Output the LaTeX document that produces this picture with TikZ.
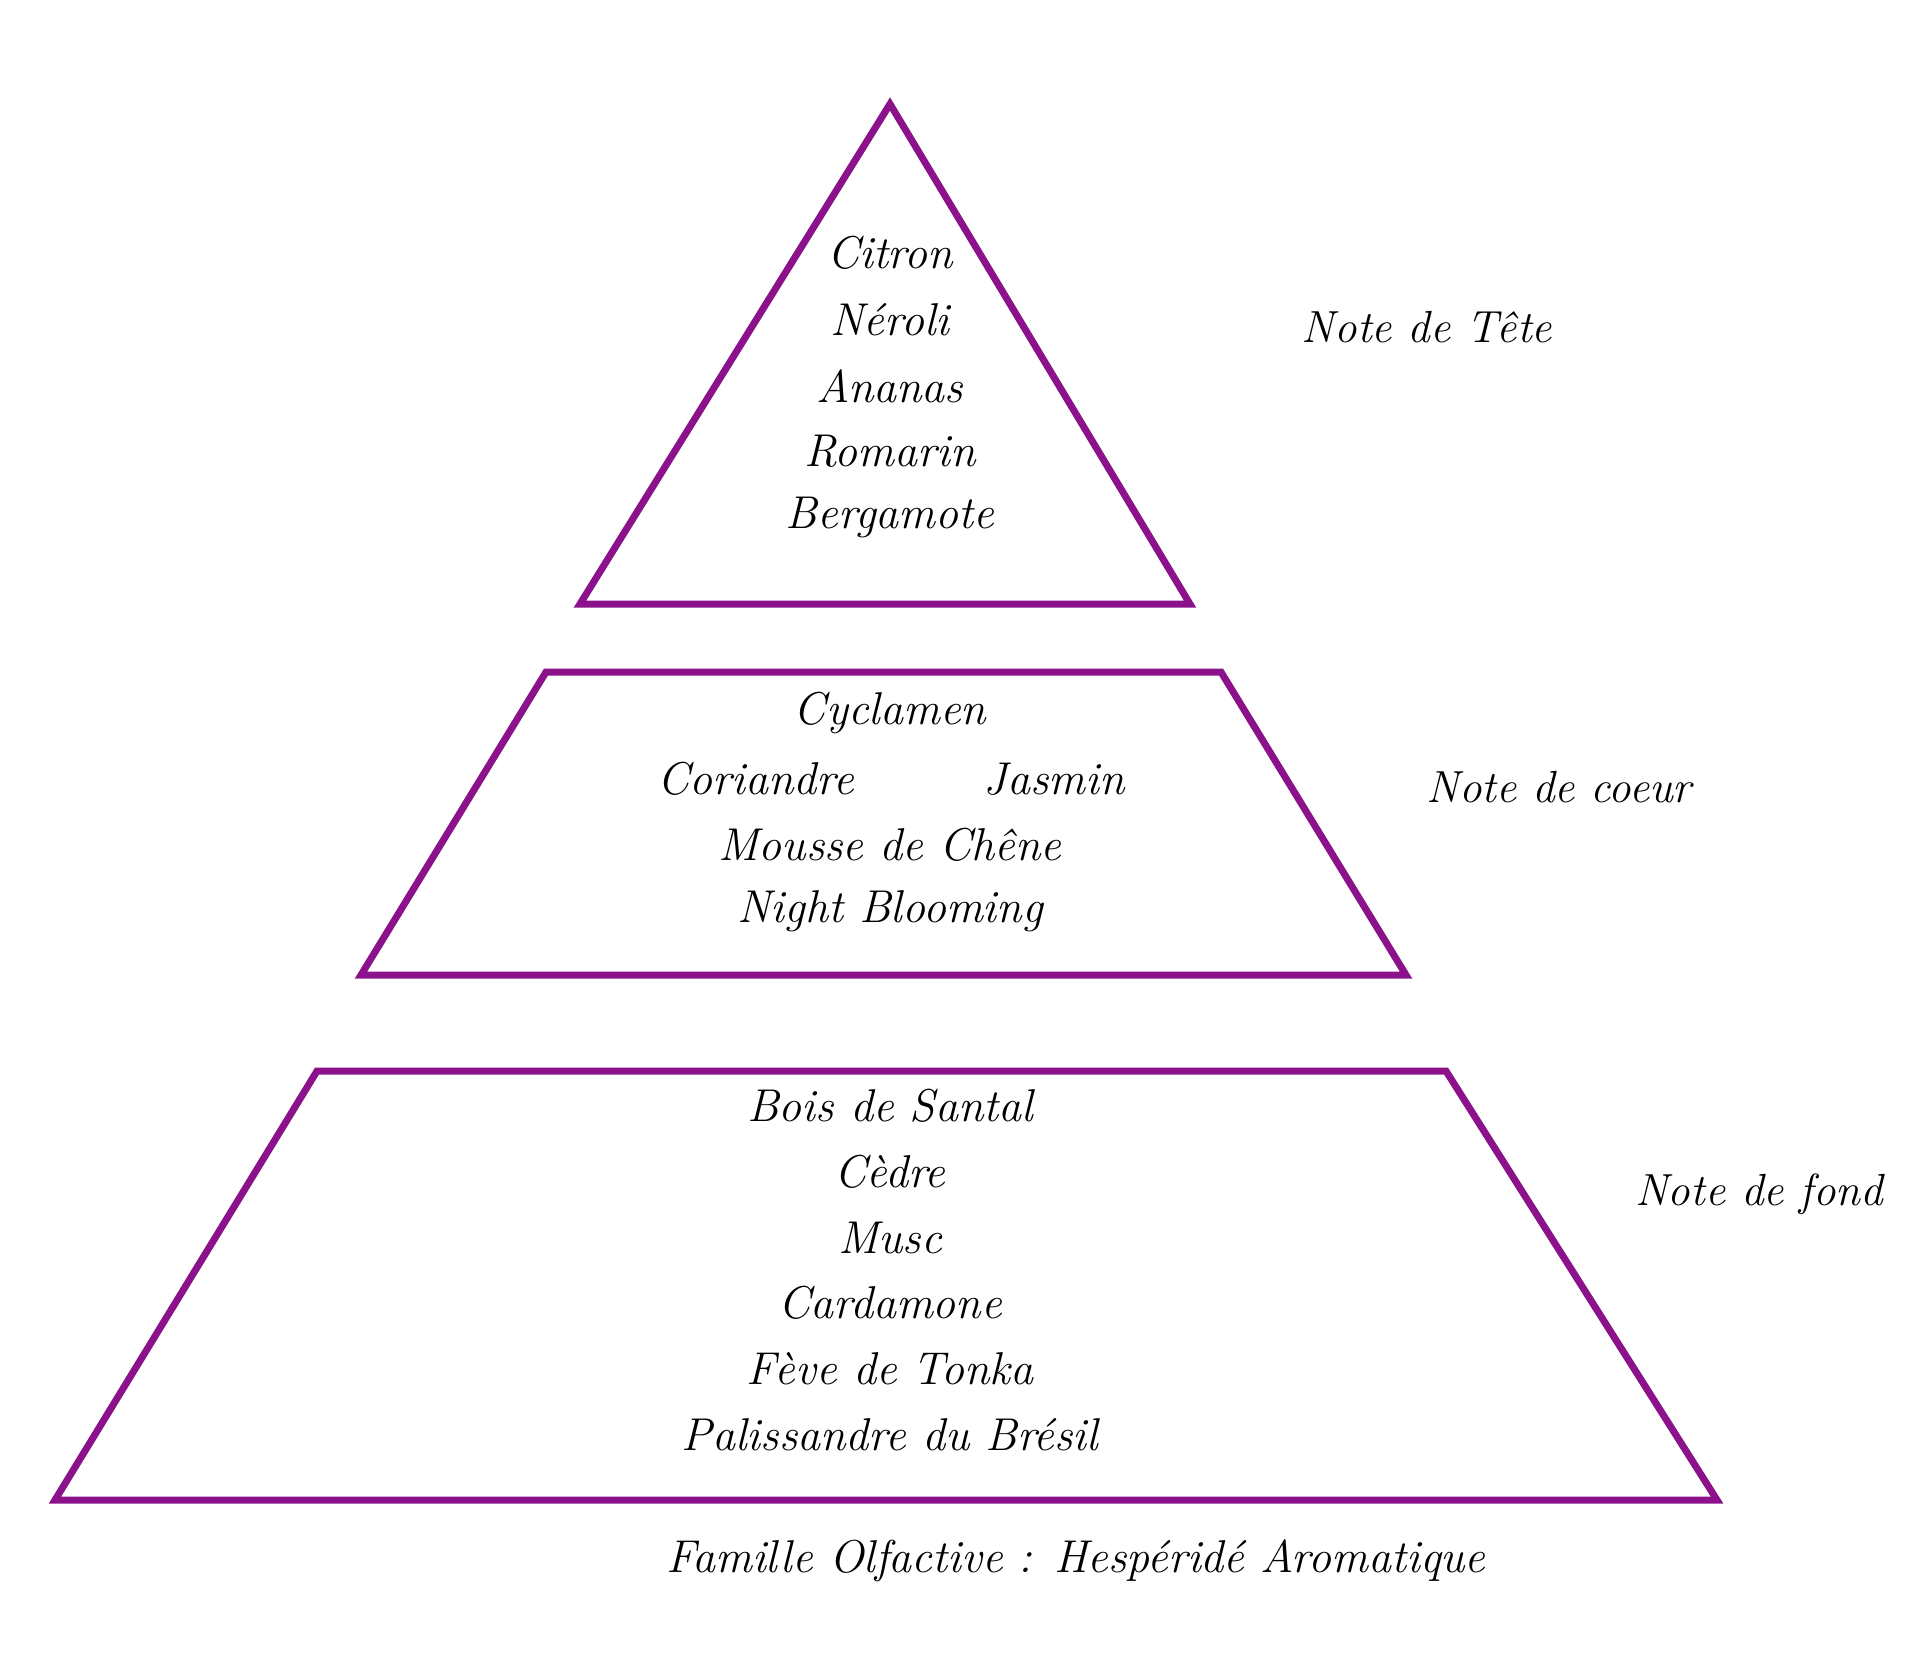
\documentclass[tikz,border=0pt]{standalone}
\usepackage{tikz}
\definecolor{pyrpurple}{RGB}{139,18,139}
\tikzset{
  tier/.style={draw=pyrpurple, line width=3.5pt, line join=miter},
  scent/.style={inner sep=0.75pt, font=\fontsize{23}{27}\selectfont\itshape},
  notelabel/.style={inner sep=0.75pt, font=\fontsize{22.5}{27}\selectfont\itshape},
}
\begin{document}
\begin{tikzpicture}[x=0.5pt,y=0.5pt,yscale=-1,xscale=1]
\useasboundingbox (0,0) rectangle (1920,1676);

%Shape: Triangle [id:tete]
\draw [tier] (890,104) -- (1190,604) -- (580,604) -- cycle ;
%Shape: Trapezoid [id:coeur]
\draw [tier] (546,672) -- (1221,672) -- (1406,975) -- (361,975) -- cycle ;
%Shape: Trapezoid [id:fond]
\draw [tier] (317,1071) -- (1446,1071) -- (1717,1500) -- (55,1500) -- cycle ;

% Text Node
\node [scent] (citron) at (890,253) {Citron};
% Text Node
\node [scent] (neroli) at (890,320) {Néroli};
% Text Node
\node [scent] (ananas) at (890,386) {Ananas};
% Text Node
\node [scent] (romarin) at (890,451) {Romarin};
% Text Node
\node [scent] (bergamote) at (890,517) {Bergamote};
% Text Node
\node [notelabel] (notetete) at (1427,327) {Note de Tête};

% Text Node
\node [scent] (cyclamen) at (890,713) {Cyclamen};
% Text Node
\node [scent] (coriandre) at (756,779) {Coriandre};
% Text Node
\node [scent] (jasmin) at (1054,779) {Jasmin};
% Text Node
\node [scent] (mousse) at (890,845) {Mousse de Chêne};
% Text Node
\node [scent] (night) at (890,911) {Night Blooming};
% Text Node
\node [notelabel] (notecoeur) at (1559,787) {Note de coeur};

% Text Node
\node [scent] (santal) at (890,1106) {Bois de Santal};
% Text Node
\node [scent] (cedre) at (890,1172) {Cèdre};
% Text Node
\node [scent] (musc) at (890,1238) {Musc};
% Text Node
\node [scent] (cardamone) at (890,1303) {Cardamone};
% Text Node
\node [scent] (tonka) at (890,1369) {Fève de Tonka};
% Text Node
\node [scent] (palissandre) at (890,1435) {Palissandre du Brésil};
% Text Node
\node [notelabel] (notefond) at (1759,1194) {Note de fond};

% Text Node
\node [scent] (famille) at (1076,1561) {Famille Olfactive : Hespéridé Aromatique};

\end{tikzpicture}
\end{document}
